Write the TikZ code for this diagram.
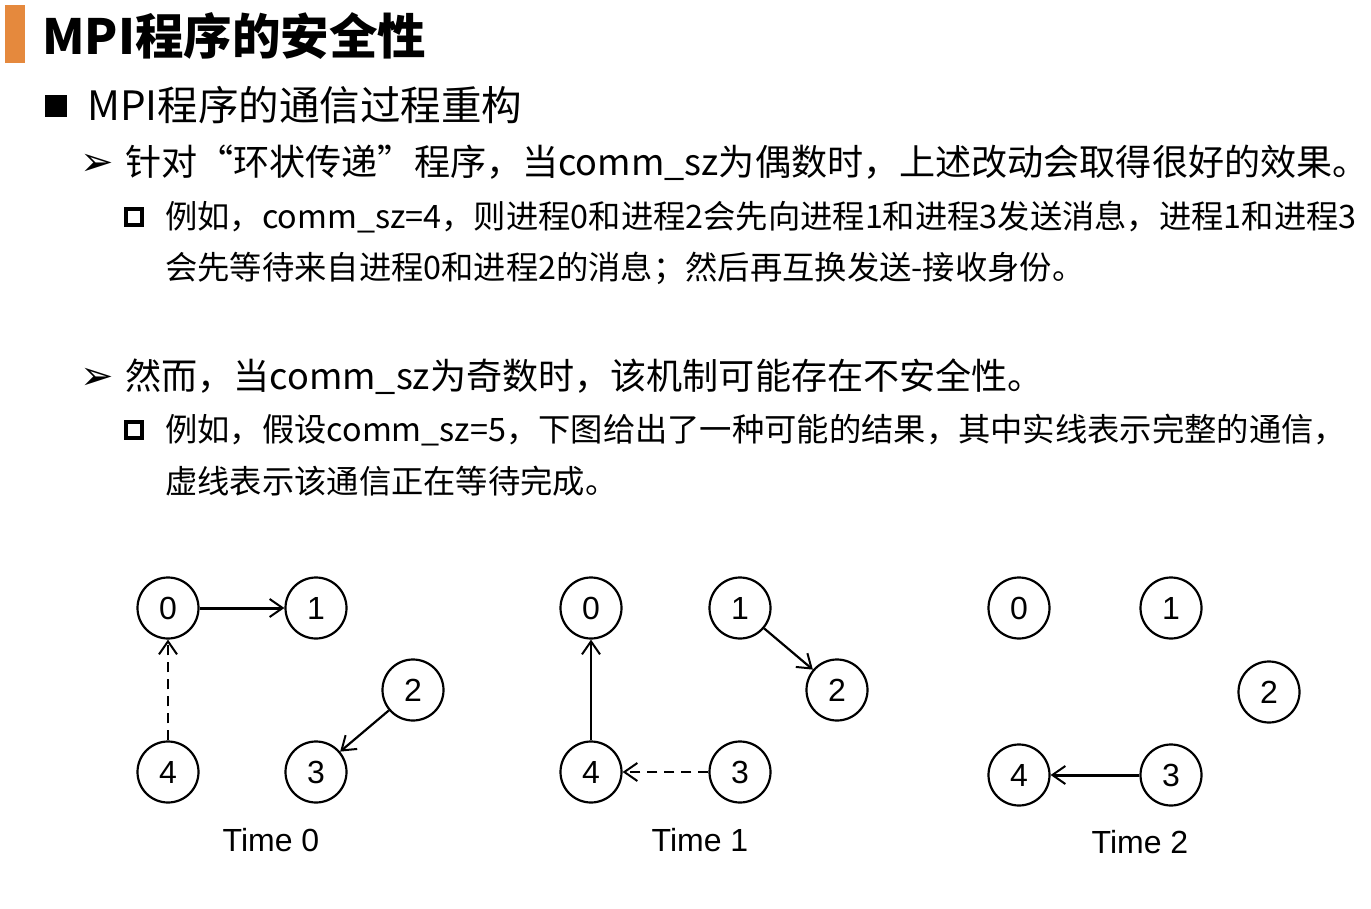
\documentclass[tikz,border=0pt]{standalone}
\usepackage{fontspec}
\setmainfont{Liberation Sans}
\newfontfamily\cjk{Noto Sans CJK SC}
\newfontfamily\dejavu{DejaVu Sans}
\usetikzlibrary{arrows.meta}
\definecolor{barorange}{HTML}{E5893D}
\tikzset{
  proc/.style={circle, draw, line width=2.2pt, minimum size=61pt, inner sep=0pt, font=\fontsize{32}{36}\selectfont},
  timelabel/.style={font=\fontsize{32}{36}\selectfont},
  msg/.style={line width=2.2pt, -{Straight Barb[length=13pt,width=18pt,line width=2pt]}},
  wait/.style={msg, dash pattern=on 10pt off 7pt},
  lvone/.style={anchor=west, inner sep=0pt, font=\cjk\fontsize{40.5}{44}\selectfont},
  lvtwo/.style={anchor=west, inner sep=0pt, font=\cjk\fontsize{36.1}{40}\selectfont},
  lvthree/.style={anchor=west, inner sep=0pt, font=\cjk\fontsize{32.3}{36}\selectfont},
  arrowbullet/.style={anchor=west, inner sep=0pt, font=\dejavu\fontsize{40}{42}\selectfont},
  boxbullet/.style={line width=4pt},
}
\begin{document}
\begin{tikzpicture}[x=1pt,y=-1pt]
\useasboundingbox (0,0) rectangle (1371,909);
\fill[white] (0,0) rectangle (1371,909);
% title
\fill[barorange] (5,5) rectangle (25,63);
\node[anchor=west, inner sep=0pt, font=\cjk\bfseries\fontsize{48.5}{52}\selectfont] (title) at (42,36) {MPI程序的安全性};
% level 1
\fill (45,95) rectangle (67,117);
\node[lvone] (l1) at (87,105) {MPI程序的通信过程重构};
% level 2 first
\node[arrowbullet] (b1) at (80,165) {➢};
\node[lvtwo] (l2a) at (125,163) {针对“环状传递”程序，当comm\_sz为偶数时，上述改动会取得很好的效果。};
\draw[boxbullet] (126,209) rectangle (142,225);
\node[lvthree] (l3a) at (165,217) {例如，comm\_sz=4，则进程0和进程2会先向进程1和进程3发送消息，进程1和进程3};
\node[lvthree] (l3b) at (165,268) {会先等待来自进程0和进程2的消息；然后再互换发送-接收身份。};
% level 2 second
\node[arrowbullet] (b2) at (80,379) {➢};
\node[lvtwo] (l2b) at (125,377) {然而，当comm\_sz为奇数时，该机制可能存在不安全性。};
\draw[boxbullet] (126,422) rectangle (142,438);
\node[lvthree] (l3c) at (165,430) {例如，假设comm\_sz=5，下图给出了一种可能的结果，其中实线表示完整的通信，};
\node[lvthree] (l3d) at (165,481) {虚线表示该通信正在等待完成。};
% Time 0
\node[proc] (a0) at (168,608) {0};
\node[proc] (a1) at (316,608) {1};
\node[proc] (a2) at (413,690) {2};
\node[proc] (a3) at (316,772) {3};
\node[proc] (a4) at (168,772) {4};
\node[timelabel] (ta) at (271,840) {Time 0};
\draw[msg, line width=3pt] (a0) -- (a1);
\draw[wait] (a4) -- (a0);
\draw[msg] (a2) -- (a3);
% Time 1
\node[proc] (b0) at (591,608) {0};
\node[proc] (c1) at (740,608) {1};
\node[proc] (c2) at (837,690) {2};
\node[proc] (c3) at (740,772) {3};
\node[proc] (c4) at (591,772) {4};
\node[timelabel] (tb) at (700,840) {Time 1};
\draw[msg] (c4) -- (b0);
\draw[msg] (c1) -- (c2);
\draw[wait] (c3) -- (c4);
% Time 2
\node[proc] (d0) at (1019,608) {0};
\node[proc] (d1) at (1171,608) {1};
\node[proc] (d2) at (1269,692) {2};
\node[proc] (d3) at (1171,775) {3};
\node[proc] (d4) at (1019,775) {4};
\node[timelabel] (tc) at (1140,842) {Time 2};
\draw[msg, line width=3pt] (d3) -- (d4);
\end{tikzpicture}
\end{document}
